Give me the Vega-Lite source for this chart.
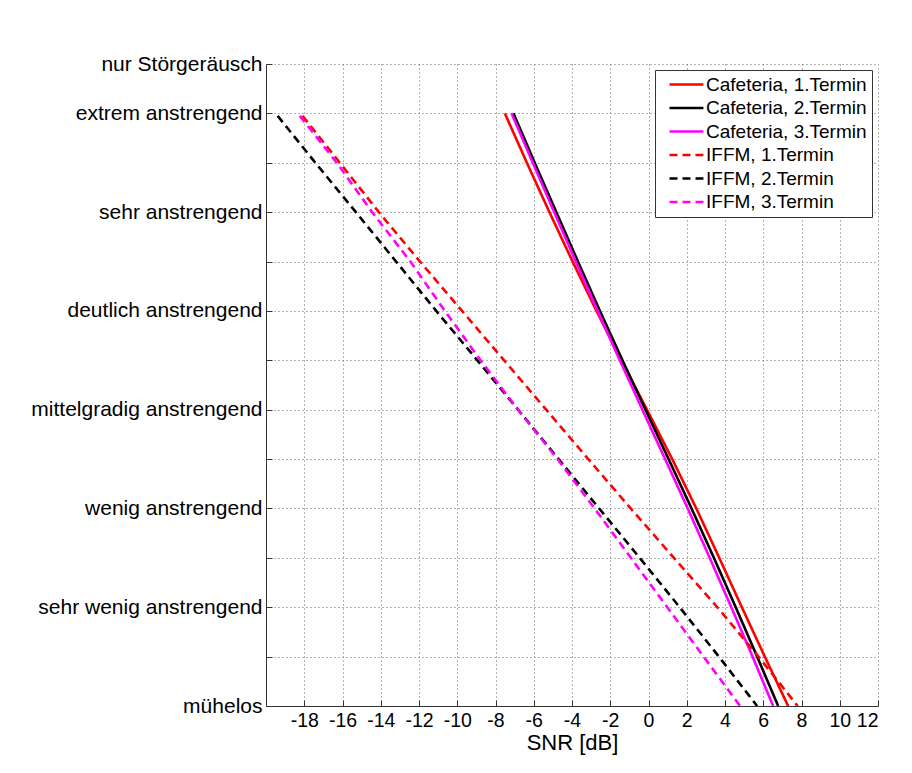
{
  "$schema": "https://vega.github.io/schema/vega-lite/v6.json",
  "width": 612,
  "height": 642,
  "autosize": {"type": "none"},
  "padding": {"left": 266, "top": 64, "right": 34, "bottom": 67},
  "background": "white",
  "config": {"font": "Liberation Sans", "view": {"stroke": null}},
  "data": {"values": [
    {"series": "Cafeteria, 1.Termin", "rating": 13, "snr": -7.51},
    {"series": "Cafeteria, 1.Termin", "rating": 12, "snr": -6.36},
    {"series": "Cafeteria, 1.Termin", "rating": 11, "snr": -5.18},
    {"series": "Cafeteria, 1.Termin", "rating": 10, "snr": -3.97},
    {"series": "Cafeteria, 1.Termin", "rating": 9, "snr": -2.72},
    {"series": "Cafeteria, 1.Termin", "rating": 8, "snr": -1.42},
    {"series": "Cafeteria, 1.Termin", "rating": 7, "snr": -0.08},
    {"series": "Cafeteria, 1.Termin", "rating": 6, "snr": 1.24},
    {"series": "Cafeteria, 1.Termin", "rating": 5, "snr": 2.5},
    {"series": "Cafeteria, 1.Termin", "rating": 4, "snr": 3.7},
    {"series": "Cafeteria, 1.Termin", "rating": 3, "snr": 4.88},
    {"series": "Cafeteria, 1.Termin", "rating": 2, "snr": 6.08},
    {"series": "Cafeteria, 1.Termin", "rating": 1, "snr": 7.3},
    {"series": "Cafeteria, 2.Termin", "rating": 13, "snr": -7.06},
    {"series": "Cafeteria, 2.Termin", "rating": 12, "snr": -5.95},
    {"series": "Cafeteria, 2.Termin", "rating": 11, "snr": -4.82},
    {"series": "Cafeteria, 2.Termin", "rating": 10, "snr": -3.69},
    {"series": "Cafeteria, 2.Termin", "rating": 9, "snr": -2.54},
    {"series": "Cafeteria, 2.Termin", "rating": 8, "snr": -1.36},
    {"series": "Cafeteria, 2.Termin", "rating": 7, "snr": -0.16},
    {"series": "Cafeteria, 2.Termin", "rating": 6, "snr": 1.05},
    {"series": "Cafeteria, 2.Termin", "rating": 5, "snr": 2.25},
    {"series": "Cafeteria, 2.Termin", "rating": 4, "snr": 3.42},
    {"series": "Cafeteria, 2.Termin", "rating": 3, "snr": 4.56},
    {"series": "Cafeteria, 2.Termin", "rating": 2, "snr": 5.68},
    {"series": "Cafeteria, 2.Termin", "rating": 1, "snr": 6.78},
    {"series": "Cafeteria, 3.Termin", "rating": 13, "snr": -7.16},
    {"series": "Cafeteria, 3.Termin", "rating": 12, "snr": -6.05},
    {"series": "Cafeteria, 3.Termin", "rating": 11, "snr": -4.93},
    {"series": "Cafeteria, 3.Termin", "rating": 10, "snr": -3.8},
    {"series": "Cafeteria, 3.Termin", "rating": 9, "snr": -2.66},
    {"series": "Cafeteria, 3.Termin", "rating": 8, "snr": -1.5},
    {"series": "Cafeteria, 3.Termin", "rating": 7, "snr": -0.32},
    {"series": "Cafeteria, 3.Termin", "rating": 6, "snr": 0.87},
    {"series": "Cafeteria, 3.Termin", "rating": 5, "snr": 2.05},
    {"series": "Cafeteria, 3.Termin", "rating": 4, "snr": 3.2},
    {"series": "Cafeteria, 3.Termin", "rating": 3, "snr": 4.33},
    {"series": "Cafeteria, 3.Termin", "rating": 2, "snr": 5.44},
    {"series": "Cafeteria, 3.Termin", "rating": 1, "snr": 6.52},
    {"series": "IFFM, 1.Termin", "rating": 12.95, "snr": -18.09},
    {"series": "IFFM, 1.Termin", "rating": 12, "snr": -16.14},
    {"series": "IFFM, 1.Termin", "rating": 11, "snr": -14.1},
    {"series": "IFFM, 1.Termin", "rating": 10, "snr": -11.95},
    {"series": "IFFM, 1.Termin", "rating": 9, "snr": -9.75},
    {"series": "IFFM, 1.Termin", "rating": 8, "snr": -7.55},
    {"series": "IFFM, 1.Termin", "rating": 7, "snr": -5.35},
    {"series": "IFFM, 1.Termin", "rating": 6, "snr": -3.15},
    {"series": "IFFM, 1.Termin", "rating": 5, "snr": -0.93},
    {"series": "IFFM, 1.Termin", "rating": 4, "snr": 1.33},
    {"series": "IFFM, 1.Termin", "rating": 3, "snr": 3.6},
    {"series": "IFFM, 1.Termin", "rating": 2, "snr": 5.75},
    {"series": "IFFM, 1.Termin", "rating": 1, "snr": 7.8},
    {"series": "IFFM, 2.Termin", "rating": 12.95, "snr": -19.39},
    {"series": "IFFM, 2.Termin", "rating": 12, "snr": -17.42},
    {"series": "IFFM, 2.Termin", "rating": 11, "snr": -15.3},
    {"series": "IFFM, 2.Termin", "rating": 10, "snr": -13.2},
    {"series": "IFFM, 2.Termin", "rating": 9, "snr": -11.1},
    {"series": "IFFM, 2.Termin", "rating": 8, "snr": -8.95},
    {"series": "IFFM, 2.Termin", "rating": 7, "snr": -6.82},
    {"series": "IFFM, 2.Termin", "rating": 6, "snr": -4.7},
    {"series": "IFFM, 2.Termin", "rating": 5, "snr": -2.58},
    {"series": "IFFM, 2.Termin", "rating": 4, "snr": -0.46},
    {"series": "IFFM, 2.Termin", "rating": 3, "snr": 1.63},
    {"series": "IFFM, 2.Termin", "rating": 2, "snr": 3.68},
    {"series": "IFFM, 2.Termin", "rating": 1, "snr": 5.68},
    {"series": "IFFM, 3.Termin", "rating": 12.95, "snr": -18.23},
    {"series": "IFFM, 3.Termin", "rating": 12, "snr": -16.3},
    {"series": "IFFM, 3.Termin", "rating": 11, "snr": -14.45},
    {"series": "IFFM, 3.Termin", "rating": 10, "snr": -12.45},
    {"series": "IFFM, 3.Termin", "rating": 9, "snr": -10.65},
    {"series": "IFFM, 3.Termin", "rating": 8, "snr": -8.78},
    {"series": "IFFM, 3.Termin", "rating": 7, "snr": -6.82},
    {"series": "IFFM, 3.Termin", "rating": 6, "snr": -4.76},
    {"series": "IFFM, 3.Termin", "rating": 5, "snr": -2.82},
    {"series": "IFFM, 3.Termin", "rating": 4, "snr": -0.92},
    {"series": "IFFM, 3.Termin", "rating": 3, "snr": 0.98},
    {"series": "IFFM, 3.Termin", "rating": 2, "snr": 2.88},
    {"series": "IFFM, 3.Termin", "rating": 1, "snr": 4.79}
  ]},
  "mark": {"type": "line", "strokeWidth": 2.6, "clip": true},
  "encoding": {
    "x": {
      "field": "snr", "type": "quantitative",
      "scale": {"domain": [-20, 12], "nice": false, "zero": false},
      "axis": {
        "values": [-18, -16, -14, -12, -10, -8, -6, -4, -2, 0, 2, 4, 6, 8, 10, 12],
        "labelExpr": "'' + datum.value",
        "title": "SNR [dB]", "titleFontSize": 22, "titleFontWeight": "normal", "titleColor": "black", "titlePadding": 3,
        "labelFontSize": 19.5, "labelColor": "black", "labelPadding": 11,
        "tickSize": -6, "tickColor": "#333", "domainColor": "#333",
        "grid": true, "gridColor": "#666", "gridDash": [1, 3], "gridOpacity": 1
      }
    },
    "y": {
      "field": "rating", "type": "quantitative",
      "scale": {"domain": [1, 14], "nice": false, "zero": false},
      "axis": {
        "values": [1, 2, 3, 4, 5, 6, 7, 8, 9, 10, 11, 12, 13, 14],
        "labelExpr": "datum.value == 1 ? 'mühelos' : datum.value == 3 ? 'sehr wenig anstrengend' : datum.value == 5 ? 'wenig anstrengend' : datum.value == 7 ? 'mittelgradig anstrengend' : datum.value == 9 ? 'deutlich anstrengend' : datum.value == 11 ? 'sehr anstrengend' : datum.value == 13 ? 'extrem anstrengend' : datum.value == 14 ? 'nur Störgeräusch' : ''",
        "title": null, "labelLimit": 400,
        "labelFontSize": 21, "labelColor": "black", "labelPadding": 10,
        "tickSize": -6, "tickColor": "#333", "domainColor": "#333",
        "grid": true, "gridColor": "#666", "gridDash": [1, 3], "gridOpacity": 1
      }
    },
    "color": {
      "field": "series", "type": "nominal",
      "scale": {
        "domain": ["Cafeteria, 1.Termin", "Cafeteria, 2.Termin", "Cafeteria, 3.Termin", "IFFM, 1.Termin", "IFFM, 2.Termin", "IFFM, 3.Termin"],
        "range": ["#ff0000", "#000000", "#ff00ff", "#ff0000", "#000000", "#ff00ff"]
      },
      "legend": {
        "title": null, "orient": "top-right", "offset": 6, "padding": 5, "rowPadding": 3.5,
        "fillColor": "white", "strokeColor": "#333", "labelLimit": 400,
        "labelFontSize": 19, "labelColor": "black", "labelOffset": 27,
        "symbolType": "M0,0H8", "symbolSize": 72, "symbolStrokeWidth": 2.6
      }
    },
    "strokeDash": {
      "field": "series", "type": "nominal",
      "scale": {
        "domain": ["Cafeteria, 1.Termin", "Cafeteria, 2.Termin", "Cafeteria, 3.Termin", "IFFM, 1.Termin", "IFFM, 2.Termin", "IFFM, 3.Termin"],
        "range": [[1, 0], [1, 0], [1, 0], [8, 5], [8, 5], [8, 5]]
      },
      "legend": {
        "title": null, "orient": "top-right", "offset": 6, "padding": 5, "rowPadding": 3.5,
        "fillColor": "white", "strokeColor": "#333", "labelLimit": 400,
        "labelFontSize": 19, "labelColor": "black", "labelOffset": 27,
        "symbolType": "M0,0H8", "symbolSize": 72, "symbolStrokeWidth": 2.6
      }
    }
  }
}
